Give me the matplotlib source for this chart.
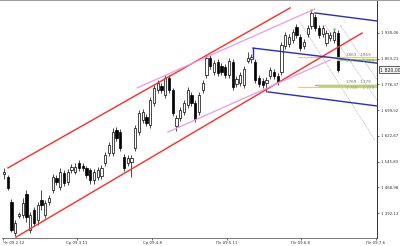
import matplotlib
matplotlib.use("Agg")
import matplotlib.pyplot as plt
from matplotlib.patches import Rectangle
from matplotlib.transforms import blended_transform_factory

# ---- candle data (bar index = position in list) ----
opens = [1509, 1500, 1425, 1332, 1383, 1386, 1449, 1341, 1401, 1371,
         1431, 1386, 1425, 1461, 1497, 1470, 1512, 1485, 1521, 1515,
         1542, 1533, 1527, 1521, 1491, 1500, 1503, 1542, 1571, 1571,
         1640, 1634, 1560, 1542, 1545, 1586, 1634, 1670, 1679, 1655,
         1721, 1760, 1772, 1745, 1796, 1760, 1652, 1676, 1694, 1715,
         1745, 1721, 1694, 1760, 1805, 1855, 1813, 1843, 1831, 1828,
         1805, 1843, 1778, 1781, 1775, 1846, 1852, 1843, 1796, 1787,
         1781, 1802, 1814, 1802, 1814, 1891, 1897, 1909, 1948, 1918,
         1891, 1927, 1951, 1978, 1945, 1927, 1900, 1915, 1909, 1930]
highs = [1527, 1506, 1434, 1371, 1395, 1437, 1461, 1395, 1410, 1425,
         1461, 1431, 1446, 1509, 1506, 1527, 1521, 1524, 1539, 1542,
         1551, 1542, 1533, 1527, 1524, 1530, 1536, 1575, 1604, 1646,
         1649, 1643, 1568, 1565, 1565, 1655, 1700, 1703, 1688, 1739,
         1775, 1790, 1781, 1805, 1805, 1766, 1685, 1709, 1730, 1769,
         1754, 1730, 1754, 1790, 1864, 1864, 1849, 1852, 1840, 1837,
         1855, 1852, 1802, 1813, 1831, 1873, 1867, 1852, 1805, 1796,
         1799, 1828, 1823, 1811, 1903, 1933, 1927, 1942, 1957, 1927,
         1912, 1954, 1996, 1987, 1954, 1954, 1939, 1933, 1939, 1939]
lows = [1494, 1461, 1335, 1323, 1377, 1377, 1365, 1332, 1353, 1356,
        1401, 1377, 1416, 1452, 1476, 1461, 1473, 1476, 1512, 1509,
        1518, 1518, 1497, 1479, 1479, 1491, 1494, 1533, 1562, 1562,
        1607, 1577, 1518, 1533, 1500, 1577, 1625, 1661, 1652, 1646,
        1712, 1751, 1751, 1736, 1751, 1682, 1637, 1667, 1685, 1706,
        1712, 1664, 1685, 1751, 1796, 1822, 1805, 1802, 1805, 1796,
        1796, 1760, 1769, 1772, 1766, 1840, 1840, 1781, 1769, 1766,
        1754, 1793, 1793, 1775, 1805, 1882, 1888, 1900, 1915, 1876,
        1882, 1918, 1942, 1936, 1915, 1918, 1891, 1906, 1900, 1814]
closes = [1515, 1467, 1341, 1362, 1389, 1422, 1380, 1386, 1362, 1416,
          1416, 1422, 1437, 1500, 1485, 1515, 1482, 1515, 1530, 1530,
          1527, 1527, 1506, 1491, 1515, 1521, 1527, 1566, 1595, 1634,
          1616, 1586, 1527, 1557, 1557, 1646, 1691, 1694, 1661, 1730,
          1766, 1781, 1760, 1796, 1760, 1691, 1676, 1700, 1721, 1760,
          1721, 1673, 1745, 1781, 1855, 1831, 1840, 1810, 1813, 1805,
          1846, 1769, 1793, 1805, 1822, 1855, 1858, 1790, 1778, 1775,
          1790, 1820, 1802, 1784, 1894, 1924, 1918, 1933, 1924, 1885,
          1903, 1945, 1990, 1945, 1924, 1945, 1930, 1924, 1933, 1820]

# ---- axis texts ----
price_ticks = [1392.13, 1468.98, 1545.83, 1622.67, 1699.52, 1776.37, 1853.21, 1930.06]
price_labels = ["1 392,13", "1 468,98", "1 545,83", "1 622,67",
                "1 699,52", "1 776,37", "1 853,21", "1 930,06"]
date_pos = [-0.27, 19.47, 39.47, 59.47, 79.2, 99.2]
date_labels = ["Чт 09.2.12", "Ср 09.3.11", "Ср 09.4.8",
               "Пн 09.5.11", "Пн 09.6.8", "Пн 09.7.6"]

# ---- drawn objects (bar index, price) ----
red_upper = [(1.07, 1527), (76.3, 2005)]
red_lower = [(3.2, 1320), (95.5, 1930)]
violet_upper = [(35.5, 1766), (82.9, 2002)]
violet_lower = [(43.7, 1634), (86.9, 1849)]
blue_top = [(82.9, 1990), (99.47, 1966)]
blue_mid = [(66.4, 1885), (99.47, 1840)]
blue_bot = [(70.4, 1754), (99.47, 1712)]
blue_stub = [(66.4, 1885), (66.4, 1855)]
gray_rays = [[(78.9, 1963), (98.9, 1610)],
             [(85.6, 1954), (99.47, 1730)],
             [(89.6, 1954), (99.47, 1790)]]
hlines = [  # price, start index, color, width
    (1857, 78.4, '#f5c08a', 0.8),
    (1850, 89.0, '#a8d878', 1.6),
    (1775, 82.9, '#c890d8', 1.0),
    (1768, 78.4, '#f5c08a', 0.8),
    (1771, 84.3, '#a8d878', 1.6),
]
zone_texts = [(1864, "1863 - 1869", '#707070'), (1846, "1 863    1 869", '#80a860'),
              (1784, "1769 - 1779", '#707070'), (1765, "1 769    1 779", '#80a860')]
last_price = closes[-1]

fig = plt.figure(figsize=(4.0, 2.46), dpi=100)
ax = fig.add_axes([2 / 400, 8 / 246, 375 / 400, 238 / 246])
ax.set_xlim(-0.533, 99.47)
ax.set_ylim(1317.5, 2028.66)

# candles
for i, (o, h, l, c) in enumerate(zip(opens, highs, lows, closes)):
    ax.plot([i, i], [l, h], color='black', lw=0.5, zorder=2, solid_capstyle='butt')
    bottom = min(o, c)
    height = max(abs(c - o), 1.5)
    face = 'white' if c >= o else 'black'
    ax.add_patch(Rectangle((i - 0.33, bottom), 0.66, height, facecolor=face,
                           edgecolor='black', lw=0.5, zorder=3))

# markers
ax.plot([82], [highs[82] + 4], marker='s', ms=1.6, color='#ff8020', mec='none', zorder=5)
ax.plot([88], [highs[88] + 4], marker='s', ms=1.6, color='#40c040', mec='none', zorder=5)

def seg(pts, **kw):
    xs, ys = zip(*pts)
    ax.plot(xs, ys, **kw)

for s in (red_upper, red_lower):
    seg(s, color='#ff2a2a', lw=1.0, zorder=4)
for s in (violet_upper, violet_lower):
    seg(s, color='#e89be8', lw=0.9, zorder=4)
for s in (blue_top, blue_mid, blue_bot, blue_stub):
    seg(s, color='#2a2ac8', lw=1.0, zorder=4)
for s in gray_rays:
    seg(s, color='#b0b0b0', lw=0.5, ls=(0, (1.5, 1)), zorder=1)
for price, x0, col, w in hlines:
    ax.plot([x0, 99.47], [price, price], color=col, lw=w, zorder=3.5)
for price, txt, col in zone_texts:
    ax.text(91.3, price, txt, fontsize=3.0, color=col, va='center', ha='left', zorder=6)

# axes styling
for side in ('top', 'left'):
    ax.spines[side].set_visible(False)
ax.spines['right'].set_color('#303030')
ax.spines['right'].set_linewidth(0.7)
ax.spines['bottom'].set_color('#606060')
ax.spines['bottom'].set_linewidth(0.6)
ax.yaxis.tick_right()
ax.set_yticks(price_ticks)
ax.set_yticklabels(price_labels)
ax.set_xticks(date_pos)
ax.set_xticklabels(date_labels)
ax.tick_params(axis='y', direction='out', length=1.5, width=0.5, pad=1.5,
               labelsize=2.8, colors='#303030')
ax.tick_params(axis='x', direction='out', length=1.5, width=0.5, pad=1.0,
               labelsize=2.8, colors='#303030')
xl = ax.get_xticklabels()
xl[0].set_horizontalalignment('left')

# last price box
trans = blended_transform_factory(ax.transAxes, ax.transData)
lbl = f"{last_price:,.2f}".replace(",", " ").replace(".", ",")
ax.text(1.008, last_price, lbl, transform=trans, fontsize=3.3, color='#202020',
        va='center', ha='left',
        bbox=dict(boxstyle='square,pad=0.25', fc='#f4f4f4', ec='#202020', lw=0.5))

# thin top border
fig.add_artist(plt.Line2D([0, 1], [0.998, 0.998], transform=fig.transFigure,
                          color='#a0a0a0', lw=0.8))

fig.savefig("out.png", dpi=100)
